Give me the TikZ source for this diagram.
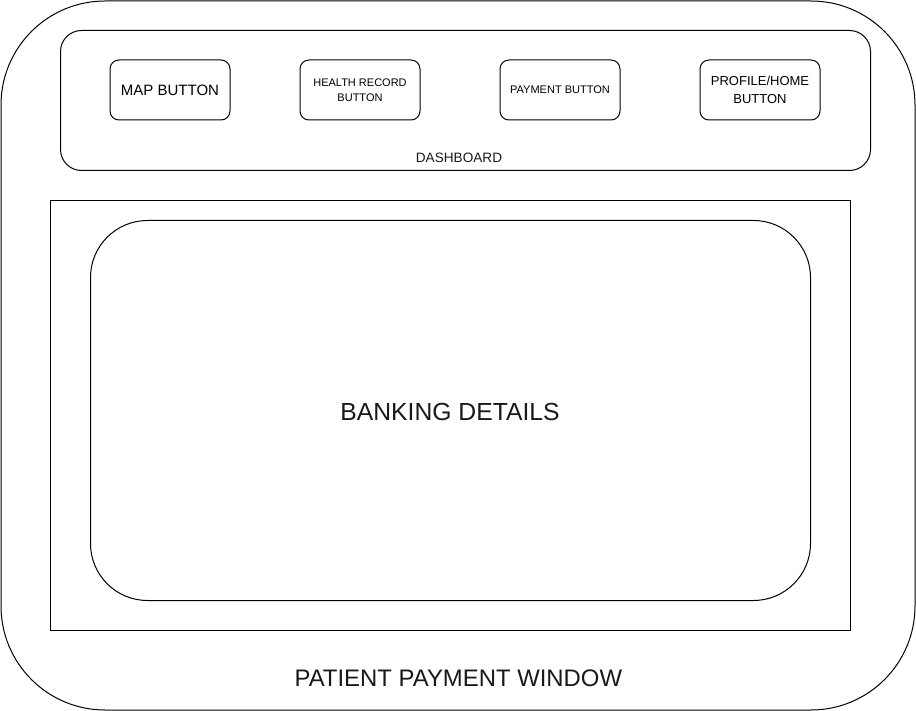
\documentclass[tikz,border=0pt]{standalone}
\usepackage{fontspec}
\setmainfont{Liberation Sans}
\begin{document}
\begin{tikzpicture}[x=1pt,y=-1pt,
  box/.style={draw=black, line width=1pt, inner sep=0pt, anchor=north west},
  btn/.style={box, rounded corners=9pt, minimum width=120pt, minimum height=60pt, align=center, anchor=center},
  txt/.style={inner sep=0pt, text=black!90, align=center}]
\useasboundingbox (0,0) rectangle (916,711);
\node[box, rounded corners=104pt, minimum width=914pt, minimum height=709pt] (win) at (0.5,0.5) {};
\node[box, rounded corners=21pt, minimum width=810pt, minimum height=140pt] (dash) at (60,30) {};
\node[btn, font=\fontsize{15}{17}\selectfont] (map) at (170,90) {MAP BUTTON};
\node[btn, font=\fontsize{11}{15}\selectfont] (health) at (360,90) {HEALTH RECORD\\BUTTON};
\node[btn, font=\fontsize{11}{13}\selectfont] (pay) at (560,90) {PAYMENT BUTTON};
\node[btn, font=\fontsize{13}{18}\selectfont] (prof) at (760,90) {PROFILE/HOME\\BUTTON};
\node[txt, font=\fontsize{13.6}{15}\selectfont] (dashlbl) at (459,157.5) {DASHBOARD};
\node[box, minimum width=800pt, minimum height=430pt] (frame) at (50,200) {};
\node[box, rounded corners=57pt, minimum width=720pt, minimum height=380pt] (bank) at (90,220) {};
\node[txt, font=\fontsize{24.7}{28}\selectfont] (banklbl) at (450,411.5) {BANKING DETAILS};
\node[txt, font=\fontsize{23.9}{27}\selectfont] (winlbl) at (458.4,678.5) {PATIENT PAYMENT WINDOW};
\end{tikzpicture}
\end{document}
